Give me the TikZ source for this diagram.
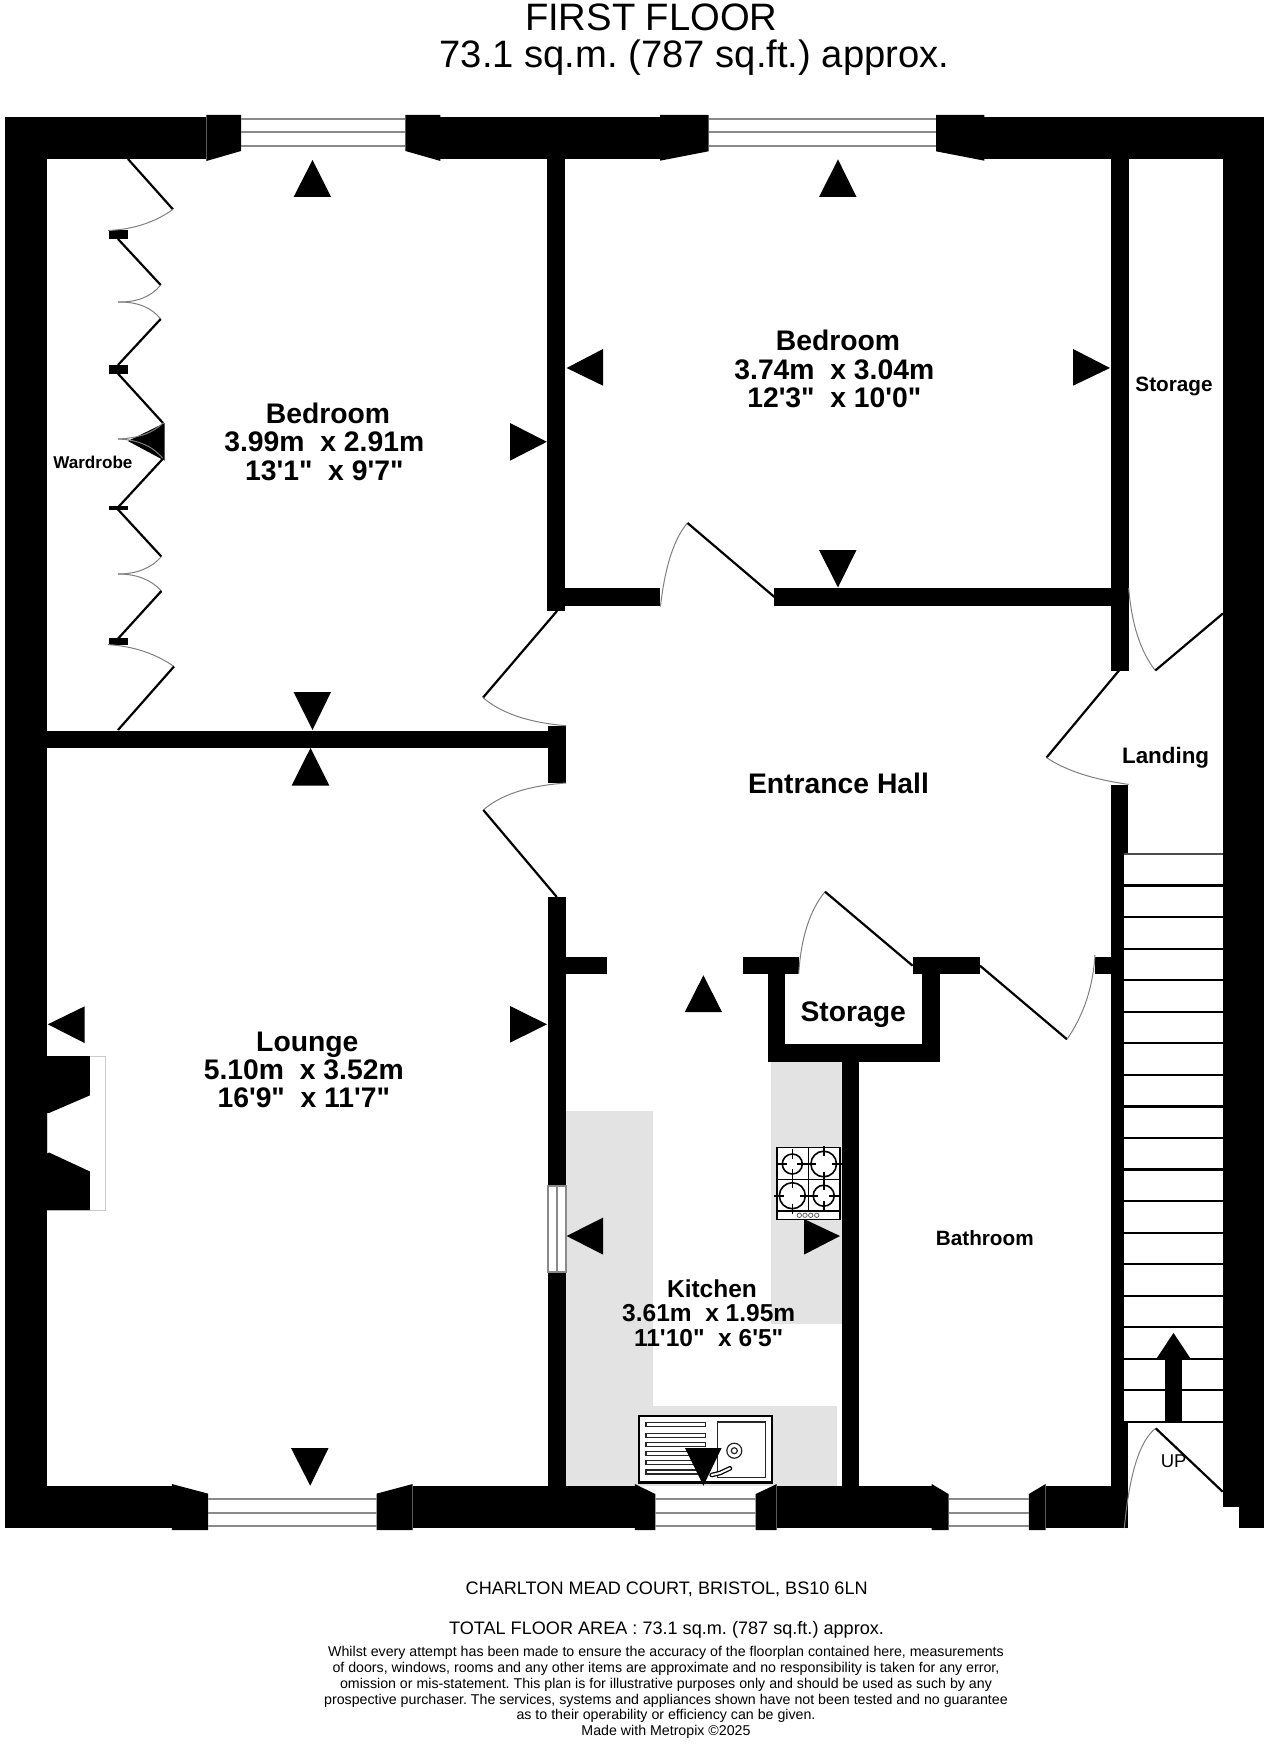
\documentclass[tikz,border=0pt]{standalone}
\usepackage{fontspec}
\usetikzlibrary{calc}
\newfontfamily\lib{Liberation Sans}
\definecolor{counter}{HTML}{E3E3E3}
\definecolor{glass}{HTML}{8A8A8A}
\tikzset{
  wall/.style={fill=black,draw=none},
  marker/.style={fill=black,draw=none},
  leaf/.style={draw=black,line width=2.2pt},
  swing/.style={draw=gray,line width=1pt},
  glazing/.style={draw=glass,line width=2pt},
  tread/.style={draw=black,line width=2.2pt},
  worktop/.style={fill=counter,draw=none},
  kit/.style={draw=black,line width=1.6pt},
  roomtext/.style={anchor=base,inner sep=0pt,font=\frenchspacing\lib\bfseries\fontsize{28.3}{30}\selectfont},
  kitchentext/.style={anchor=base,inner sep=0pt,font=\lib\bfseries\fontsize{24.5}{26}\selectfont},
  smalltext/.style={anchor=base,inner sep=0pt,font=\lib\bfseries\fontsize{20.7}{22}\selectfont},
  titletext/.style={anchor=base,inner sep=0pt,font=\frenchspacing\lib\fontsize{38.2}{40}\selectfont},
  foottext/.style={anchor=base,inner sep=0pt,font=\frenchspacing\lib\fontsize{18.1}{20}\selectfont},
}
\newcommand{\burner}[3]{%
  \draw[kit] (#1,#2) circle (#3);
  \draw[kit] (#1-#3-5,#2) -- (#1-#3+5,#2) (#1+#3-5,#2) -- (#1+#3+5,#2)
             (#1,#2-#3-5) -- (#1,#2-#3+5) (#1,#2+#3-5) -- (#1,#2+#3+5);
}
% a door swing: a quadratic curve from #1 to #3 with control point #2
\newcommand{\swingarc}[3]{%
  \draw[swing] (#1) .. controls ($(#1)!0.667!(#2)$) and ($(#3)!0.667!(#2)$) .. (#3);
}
\begin{document}
\begin{tikzpicture}[x=1pt,y=-1pt]
\useasboundingbox (0,0) rectangle (1272,1744);
\fill[white] (0,0) rectangle (1272,1744);

% worktops
\fill[worktop] (565.7,1110.7) rectangle (653.4,1486);
\fill[worktop] (653.4,1406.4) rectangle (837,1486);
\fill[worktop] (771,1061.8) rectangle (841.6,1324.3);

% outer walls
\fill[wall] (4.6,116.8) rectangle (206.4,159);
\fill[wall] (440.4,116.8) rectangle (660,159);
\fill[wall] (984.4,116.8) rectangle (1264.4,159);
\fill[wall] (4.6,116.8) rectangle (47,1528);
\fill[wall] (1223.2,116.8) rectangle (1264.4,1506.6);
\fill[wall] (1239,1506.6) rectangle (1264.4,1528.2);
\fill[wall] (4.6,1486) rectangle (171.8,1528);
\fill[wall] (412.7,1486) rectangle (634.8,1528);
\fill[wall] (776.7,1486) rectangle (931.7,1528);
\fill[wall] (1045.6,1486) rectangle (1128.3,1528);

% window frames
\fill[wall] (206.4,115) -- (241,115) -- (241,151) -- (206.4,161) -- cycle;
\fill[wall] (405.4,115) -- (440.4,115) -- (440.4,161) -- (405.4,151) -- cycle;
\fill[wall] (660,115) -- (708.5,115) -- (708.5,151.3) -- (660,160.7) -- cycle;
\fill[wall] (936,115) -- (984.4,115) -- (984.4,160.7) -- (936,151.3) -- cycle;
\fill[wall] (171.8,1484) -- (208,1493.6) -- (208,1530) -- (171.8,1530) -- cycle;
\fill[wall] (376.7,1493.6) -- (412.7,1484) -- (412.7,1530) -- (376.7,1530) -- cycle;
\fill[wall] (634.8,1484) -- (655.3,1494) -- (655.3,1530) -- (634.8,1530) -- cycle;
\fill[wall] (755.7,1494) -- (776.7,1484) -- (776.7,1530) -- (755.7,1530) -- cycle;
\fill[wall] (931.7,1484) -- (948.5,1494) -- (948.5,1530) -- (931.7,1530) -- cycle;
\fill[wall] (1028.8,1494) -- (1045.6,1484) -- (1045.6,1530) -- (1028.8,1530) -- cycle;
\draw[glazing] (241,119) -- (405.4,119) (241,132.4) -- (405.4,132.4) (241,146) -- (405.4,146);
\draw[glazing] (708.5,119) -- (936,119) (708.5,132.2) -- (936,132.2) (708.5,146) -- (936,146);
\draw[glazing] (208,1499) -- (376.7,1499) (208,1512.9) -- (376.7,1512.9) (208,1526) -- (376.7,1526);
\draw[glazing] (655.3,1499) -- (755.7,1499) (655.3,1512.9) -- (755.7,1512.9) (655.3,1526) -- (755.7,1526);
\draw[glazing] (948.5,1499) -- (1028.8,1499) (948.5,1512.9) -- (1028.8,1512.9) (948.5,1526) -- (1028.8,1526);

% inner walls
\fill[wall] (547,159) rectangle (565.2,611);
\fill[wall] (47,730.7) rectangle (566,748);
\fill[wall] (548,725.7) rectangle (566,783);
\fill[wall] (548,897) rectangle (566,1186);
\fill[wall] (548,1272) rectangle (566,1486);
\fill[wall] (566,957) rectangle (607,974);
\fill[wall] (742.8,957) rectangle (798.7,974);
\fill[wall] (767.6,974) rectangle (785,1061.8);
\fill[wall] (912.6,957) rectangle (980,974);
\fill[wall] (922,974) rectangle (939.5,1061.8);
\fill[wall] (767.6,1044) rectangle (939.5,1061.8);
\fill[wall] (841.6,1061.8) rectangle (859.3,1486);
\fill[wall] (565,588) rectangle (660.4,605.8);
\fill[wall] (774.4,588) rectangle (1111,605.8);
\fill[wall] (1111,159) rectangle (1128.7,670.5);
\fill[wall] (1111,785.3) rectangle (1128,854);
\fill[wall] (1110.5,854) rectangle (1124.2,1422);
\fill[wall] (1110.5,1422) rectangle (1128.3,1528);
\fill[wall] (1095,957) rectangle (1110.5,974);

% internal window lounge/kitchen
\fill[white] (547,1186) rectangle (566.5,1272);
\draw[glazing] (547.5,1186) rectangle (566,1272) (556.7,1186) -- (556.7,1272);

% fireplace
\draw[draw=gray!40,line width=1pt] (47,1056) rectangle (105,1210);
\fill[wall] (47,1056) -- (89.8,1056) -- (89.8,1095.4) -- (49,1113) -- (47,1113) -- cycle;
\fill[wall] (47,1153.6) -- (49,1152.5) -- (89.8,1171.4) -- (89.8,1210) -- (47,1210) -- cycle;

% wardrobe door stops
\fill[wall] (109,230.5) rectangle (127.5,239);
\fill[wall] (109,365) rectangle (127.5,373.6);
\fill[wall] (109,505.7) rectangle (127.5,509.5);
\fill[wall] (109,638) rectangle (127.5,644.6);

% stairs
\draw[draw=black!70,line width=1.4pt] (1124.2,854) -- (1223.2,854);
\foreach \i in {1,...,18} {
  \draw[tread] (1124.2,854+31.55*\i) -- (1223.2,854+31.55*\i);
}
\fill[wall] (1165,1359) rectangle (1182.3,1422);
\fill[wall] (1173.5,1332.9) -- (1190.8,1359) -- (1156.2,1359) -- cycle;
\node[inner sep=0pt,anchor=base,font=\lib\fontsize{18.5}{20}\selectfont] (up) at (1173.6,1467.5) {UP};

% hob
\fill[white] (777,1147.3) rectangle (840,1219.5);
\draw[kit] (777,1147.3) rectangle (840,1219.5);
\draw[kit] (808.3,1147.3) -- (808.3,1210.7) (777,1179.4) -- (840,1179.4) (777,1210.7) -- (840,1210.7);
\burner{792.3}{1164}{10}
\burner{823.7}{1164}{12.8}
\burner{792.3}{1195.7}{13}
\burner{823.7}{1195.7}{10.5}
\foreach \cx in {799.3,805,810.7,816.7} { \draw[draw=black!60,line width=0.8pt] (\cx,1215.3) circle (2.2); }

% sink
\fill[white] (639.3,1415.7) rectangle (772.3,1482.5);
\draw[draw=black,line width=2.3pt] (639.3,1415.7) rectangle (772.3,1482.5);
\foreach \cy in {1424.3,1435.3,1444.7,1453.3,1462.7,1472} {
  \draw[draw=black!85,line width=1.2pt] (646,\cy-2) rectangle (705.7,\cy+2);
}
\draw[draw=black!85,line width=1.4pt] (717.3,1422) rectangle (765.7,1477.7);
\draw[draw=black!85,line width=1.2pt] (734.3,1450.7) circle (7.5) circle (3);
\draw[draw=black,line width=4.6pt,line cap=round] (711.7,1475) -- (720,1473) -- (730,1468.3);
\draw[draw=white,line width=2pt,line cap=round] (711.7,1475) -- (720,1473) -- (730,1468.3);

% view markers
\fill[marker] (312.5,160) -- (331,197) -- (293.6,197) -- cycle;
\fill[marker] (546.8,441.8) -- (510,423) -- (510,460.7) -- cycle;
\fill[marker] (312.5,730) -- (293.6,692) -- (331,692) -- cycle;
\fill[marker] (127.9,441) -- (164.6,423) -- (164.6,460.7) -- cycle;
\fill[marker] (838,159.4) -- (856.5,197) -- (819,197) -- cycle;
\fill[marker] (566.6,368) -- (603,349) -- (603,385.7) -- cycle;
\fill[marker] (1110,368) -- (1073,349) -- (1073,385.7) -- cycle;
\fill[marker] (838,587.5) -- (819,550) -- (856.5,550) -- cycle;
\fill[marker] (310.5,748) -- (329.4,785.7) -- (291.6,785.7) -- cycle;
\fill[marker] (47.8,1024.3) -- (84.5,1006.4) -- (84.5,1043) -- cycle;
\fill[marker] (547,1024.3) -- (510,1006) -- (510,1042.7) -- cycle;
\fill[marker] (310.2,1485.7) -- (291,1448) -- (328.6,1448) -- cycle;
\fill[marker] (703.4,975.3) -- (722,1012) -- (684.8,1012) -- cycle;
\fill[marker] (566.6,1236) -- (603,1217.6) -- (603,1254.6) -- cycle;
\fill[marker] (840,1236) -- (804,1219) -- (804,1254.6) -- cycle;
\fill[marker] (703.4,1485.7) -- (685,1448) -- (721.6,1448) -- cycle;

% door leaves and swings
\draw[leaf] (128,159) -- (173,209.4);
\swingarc{173,209.4}{145.5,229}{108,230.5}
\draw[leaf] (118,239) -- (160.7,285);
\swingarc{160.7,285}{146.7,302.5}{118,302}
\swingarc{118,302}{146.7,301.5}{160.7,319}
\draw[leaf] (160.7,319) -- (118,365);
\draw[leaf] (118,373.6) -- (163,423);
\swingarc{163,423}{148,438}{118,439}
\swingarc{118,439}{148,440}{163,458.6}
\draw[leaf] (163,458.6) -- (118,507.4);
\draw[leaf] (118,509.5) -- (161.4,556.6);
\swingarc{161.4,556.6}{146,574}{118,574}
\swingarc{118,574}{146,574}{161.4,591}
\draw[leaf] (161.4,591) -- (118,638.7);
\swingarc{108,644.6}{146,647}{174,666.5}
\draw[leaf] (174,666.5) -- (118,730);
\draw[leaf] (557,611) -- (483,697.6);
\swingarc{483,697.6}{510,721}{566,725.7}
\swingarc{566,783}{509.4,787}{483.3,810}
\draw[leaf] (483.3,810) -- (556.8,897);
\swingarc{660.4,606.7}{667.4,546}{687.5,523}
\draw[leaf] (687.5,523) -- (774.4,597);
\swingarc{1128.7,588}{1133,642}{1155.3,670.5}
\draw[leaf] (1155.3,670.5) -- (1223,613.4);
\draw[leaf] (1119,670.5) -- (1046.5,757.6);
\swingarc{1046.5,757.6}{1075.4,777}{1128.7,784.4}
\swingarc{798.7,974}{802,920}{825,891.7}
\draw[leaf] (825,891.7) -- (912.6,965.7);
\draw[leaf] (980,965.7) -- (1067,1039.3);
\swingarc{1067,1039.3}{1092,1003}{1095,955}
\swingarc{1124.3,1528}{1132,1446}{1155.7,1428.3}
\draw[leaf] (1155.7,1428.3) -- (1222.7,1491.7);

% texts
\node[titletext] (title1) at (651.3,30.5) {FIRST FLOOR};
\node[titletext] (title2) at (694.5,68) {73.1 sq.m. (787 sq.ft.) approx.};

\node[roomtext] (bed1a) at (328,423.5) {Bedroom};
\node[roomtext] (bed1b) at (324.3,451.7) {3.99m\ \ x 2.91m};
\node[roomtext] (bed1c) at (324.3,480.4) {13'1"\ \ x 9'7"};
\node[roomtext] (bed2a) at (838,350.5) {Bedroom};
\node[roomtext] (bed2b) at (834.3,379.5) {3.74m\ \ x 3.04m};
\node[roomtext] (bed2c) at (834.3,407.5) {12'3"\ \ x 10'0"};
\node[roomtext] (loua) at (307.3,1051) {Lounge};
\node[roomtext] (loub) at (303.8,1079) {5.10m\ \ x 3.52m};
\node[roomtext] (louc) at (303.8,1107) {16'9"\ \ x 11'7"};
\node[kitchentext] (kita) at (712,1297) {Kitchen};
\node[kitchentext] (kitb) at (708.7,1321.5) {3.61m\ \ x 1.95m};
\node[kitchentext] (kitc) at (708.7,1346) {11'10"\ \ x 6'5"};
\node[roomtext] (hall) at (838.5,793) {Entrance Hall};
\node[roomtext] (store1) at (853.2,1021) {Storage};
\node[smalltext] (store2) at (1174,391.5) {Storage};
\node[smalltext,font=\lib\bfseries\fontsize{22.4}{24}\selectfont] (landing) at (1165.6,763) {Landing};
\node[smalltext] (bath) at (984.8,1245.5) {Bathroom};
\node[smalltext,font=\lib\bfseries\fontsize{17.1}{19}\selectfont] (ward) at (92.9,468) {Wardrobe};

\node[foottext] (addr) at (666.7,1594.5) {CHARLTON MEAD COURT, BRISTOL, BS10 6LN};
\node[foottext] (area) at (666.5,1634.5) {TOTAL FLOOR AREA : 73.1 sq.m. (787 sq.ft.) approx.};
\node[anchor=center,inner sep=0pt,align=center,font=\frenchspacing\lib\fontsize{14.2}{15.75}\selectfont] (disc) at (666,1692.6)
 {Whilst every attempt has been made to ensure the accuracy of the floorplan contained here, measurements\\
  of doors, windows, rooms and any other items are approximate and no responsibility is taken for any error,\\
  omission or mis-statement. This plan is for illustrative purposes only and should be used as such by any\\
  prospective purchaser. The services, systems and appliances shown have not been tested and no guarantee\\
  as to their operability or efficiency can be given.\\
  Made with Metropix ©2025};
\end{tikzpicture}
\end{document}
